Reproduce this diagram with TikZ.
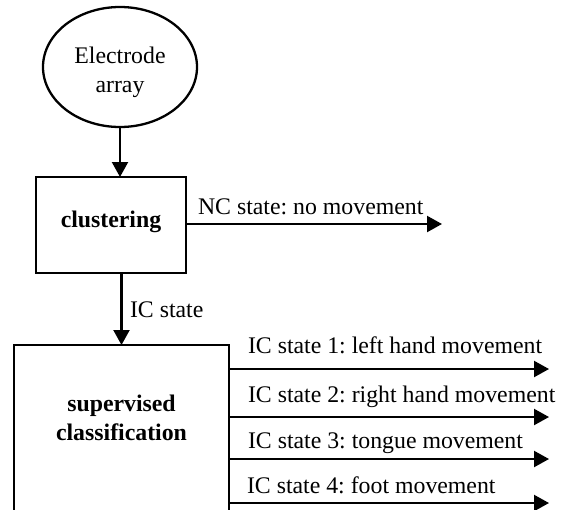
\documentclass[tikz,border=0pt]{standalone}
\usepackage{fontspec}
\setmainfont{Liberation Serif}
\usetikzlibrary{arrows.meta,shapes.geometric}
\frenchspacing
\begin{document}
\begin{tikzpicture}[x=1pt,y=-1pt,
  every node/.style={font=\fontsize{23.8}{29}\selectfont\frenchspacing, inner sep=0pt, outer sep=0pt},
  boxline/.style={draw, line width=2.3pt},
  conn/.style={line width=2.2pt, -{Triangle[length=15pt,width=16pt]}},
  lbl/.style={anchor=base west}]
\clip (0,0) rectangle (564,509);
\fill[white] (0,0) rectangle (564,509);
% electrode array
\node[boxline, ellipse, minimum width=154pt, minimum height=120pt] (ea) at (120,67) {};
\node[align=center] (eatext) at (120,72) {Electrode\\array};
% clustering
\node[boxline, minimum width=150pt, minimum height=96pt] (cl) at (111,225) {};
\node[anchor=base, font=\fontsize{23.8}{29}\selectfont\bfseries] (cltext) at (111,227) {clustering};
% supervised classification
\node[boxline, minimum width=215pt, minimum height=200pt, anchor=north] (sup) at (121.5,345) {};
\node[align=center, font=\fontsize{23.8}{29}\selectfont\bfseries] (suptext) at (121.5,418) {supervised\\classification};
% connectors
\draw[conn] (ea.south) -- (ea.south |- cl.north);
\coordinate (nc) at (442,224);
\draw[conn] (cl.east |- nc) -- (nc);
\node[lbl] (nclbl) at (198,214) {NC state: no movement};
\draw[conn] (cl.south -| sup.north) -- (sup.north);
\node[lbl] (iclbl) at (130,317) {IC state};
\coordinate (o1) at (549,369);
\coordinate (o2) at (549,417);
\coordinate (o3) at (549,459);
\coordinate (o4) at (549,503);
\draw[conn] (sup.east |- o1) -- (o1);
\draw[conn] (sup.east |- o2) -- (o2);
\draw[conn] (sup.east |- o3) -- (o3);
\draw[conn] (sup.east |- o4) -- (o4);
\node[lbl] (l1) at (248,353) {IC state 1: left hand movement};
\node[lbl] (l2) at (248,402) {IC state 2: right hand movement};
\node[lbl] (l3) at (248,448) {IC state 3: tongue movement};
\node[lbl] (l4) at (247,493) {IC state 4: foot movement};
\end{tikzpicture}
\end{document}
